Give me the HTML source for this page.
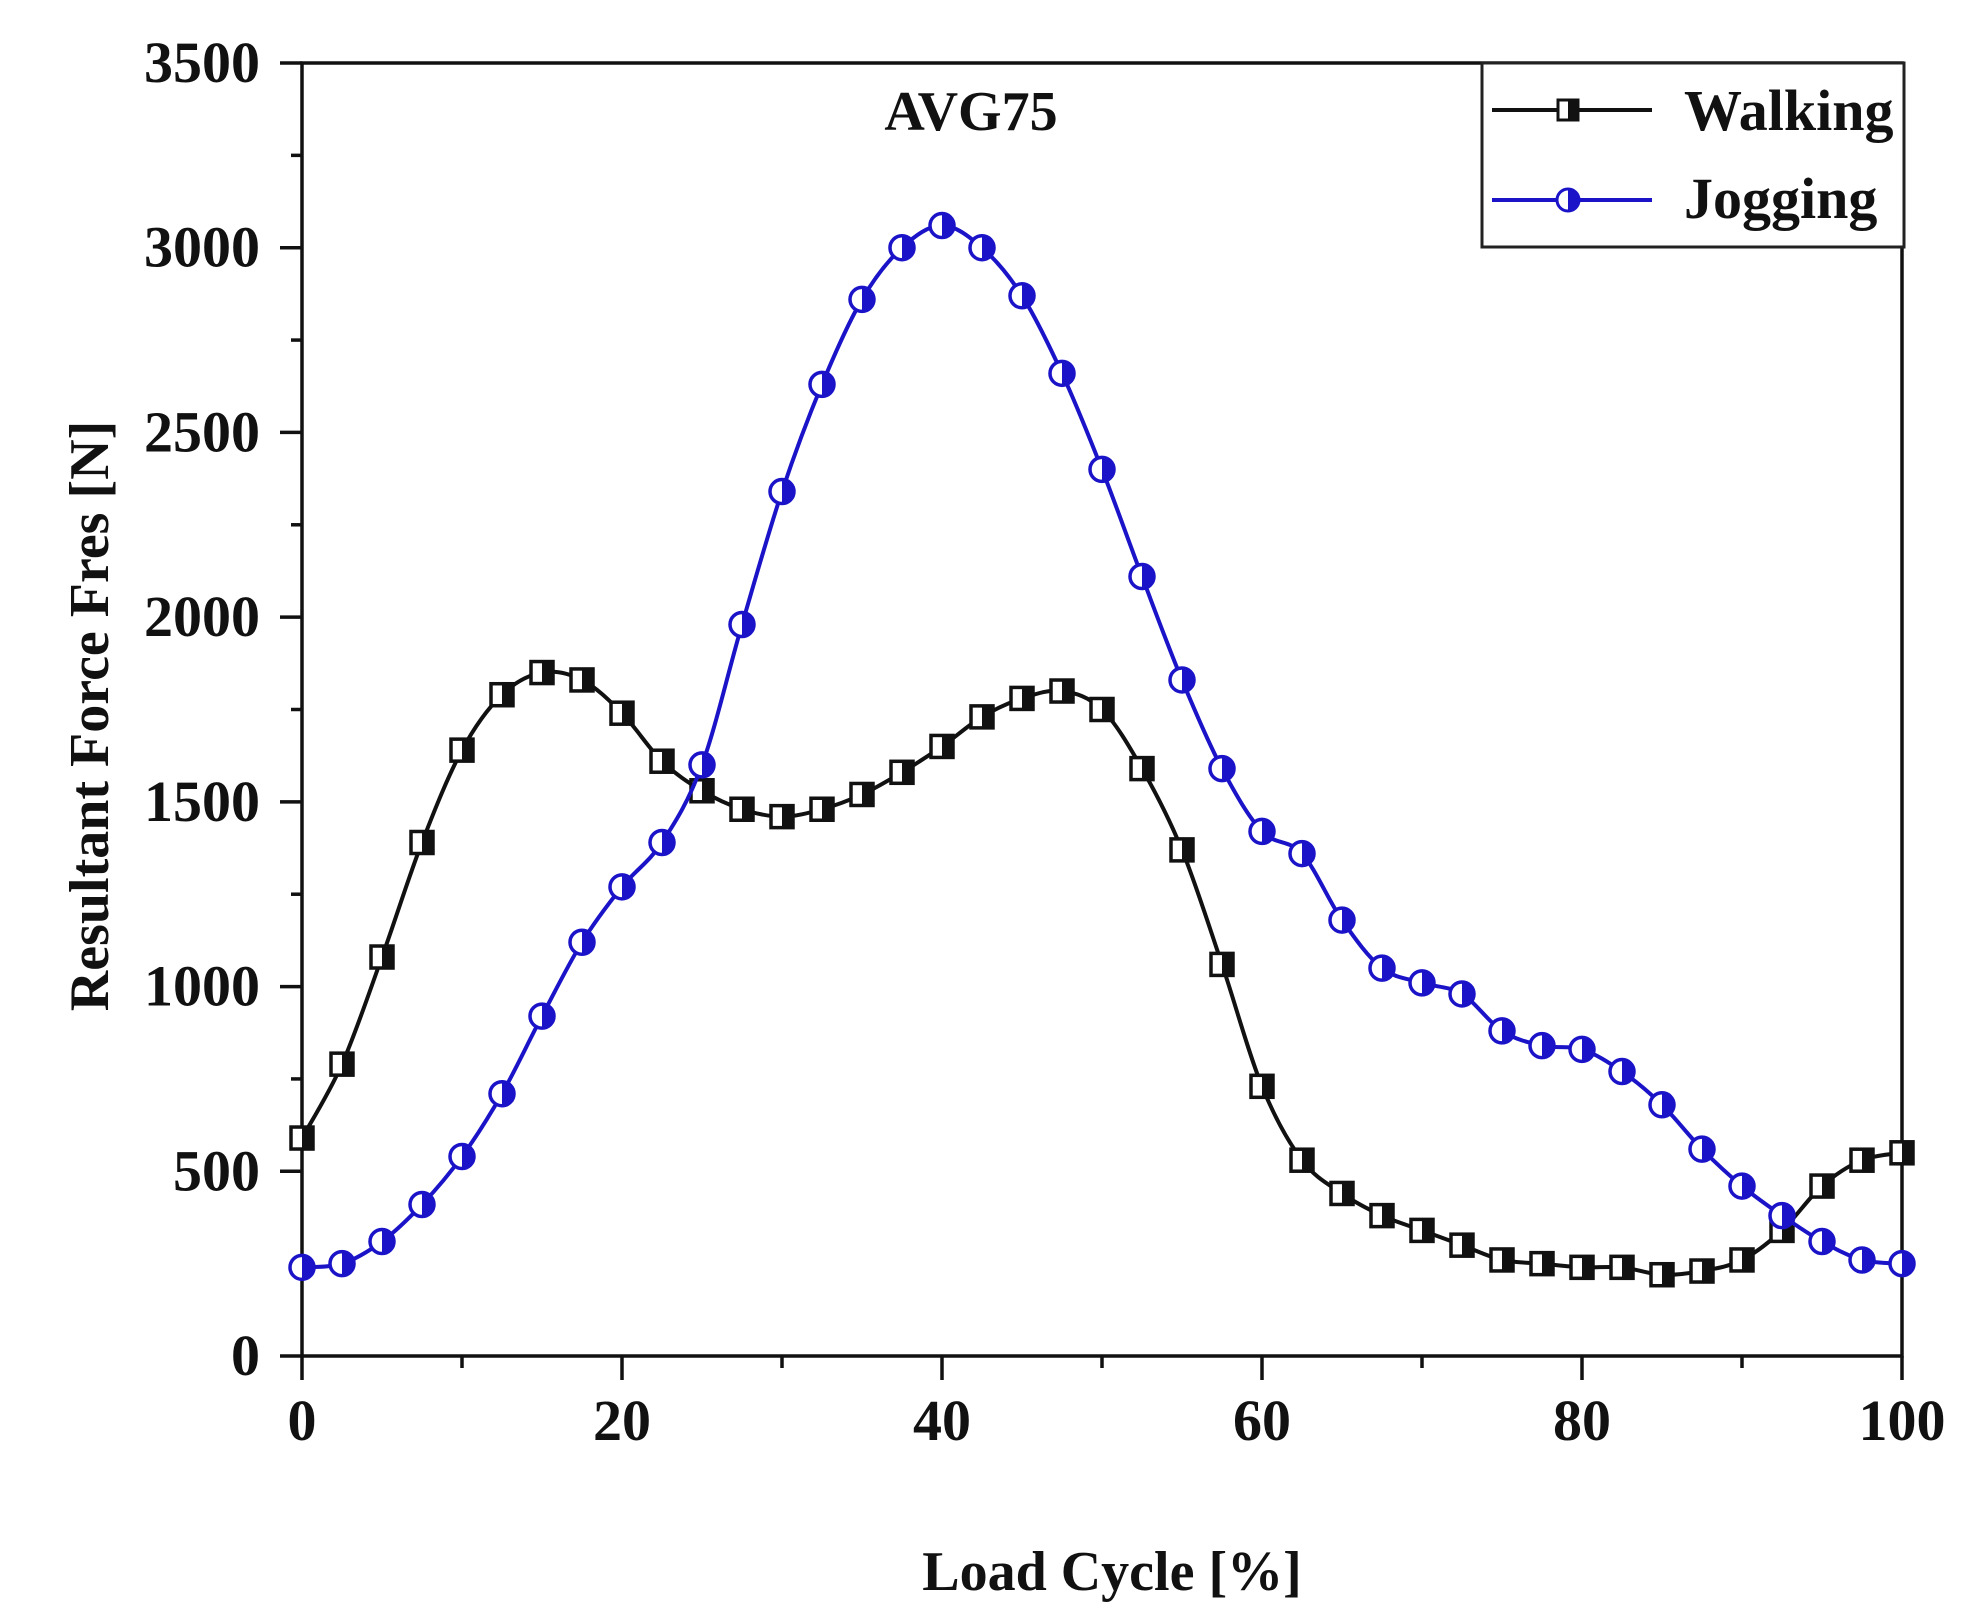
<!DOCTYPE html>
<html><head><meta charset="utf-8"><style>
html,body{margin:0;padding:0;background:#fff;}
svg{display:block;}
text{font-family:"Liberation Serif",serif;font-weight:bold;fill:#111;}
</style></head><body>
<svg id="chart" width="1970" height="1616" viewBox="0 0 1970 1616">
<g id="axes"></g><g id="series"></g>
<text x="971" y="130" font-size="56" text-anchor="middle">AVG75</text>
<text x="1112" y="1590" font-size="56" text-anchor="middle">Load Cycle [%]</text>
<text transform="translate(108,716) rotate(-90)" font-size="56" text-anchor="middle">Resultant Force Fres [N]</text>
<g>
<rect x="1482" y="63" width="422" height="184" fill="#fff" stroke="#222" stroke-width="3"/>
<g>
<line x1="1492" y1="110" x2="1652" y2="110" stroke="#111" stroke-width="4"/>
<rect x="1558" y="100" width="20" height="20" fill="#fff" stroke="#111" stroke-width="3"/>
<rect x="1568" y="100" width="10" height="20" fill="#111"/>
<text x="1684" y="130" font-size="58">Walking</text>
</g>
<g>
<line x1="1492" y1="200" x2="1652" y2="200" stroke="#1a13c8" stroke-width="4"/>
<circle cx="1568" cy="200" r="11" fill="#fff" stroke="#1a13c8" stroke-width="3"/>
<path d="M1568 189 A11 11 0 0 1 1568 211 Z" fill="#1a13c8"/>
<text x="1684" y="218" font-size="58">Jogging</text>
</g>
</g>
</svg>
<script>
const xValues = [0,2.5,5,7.5,10,12.5,15,17.5,20,22.5,25,27.5,30,32.5,35,37.5,40,42.5,45,47.5,50,52.5,55,57.5,60,62.5,65,67.5,70,72.5,75,77.5,80,82.5,85,87.5,90,92.5,95,97.5,100];
const walking = [590,790,1080,1390,1640,1790,1850,1830,1740,1610,1530,1480,1460,1480,1520,1580,1650,1730,1780,1800,1750,1590,1370,1060,730,530,440,380,340,300,260,250,240,240,220,230,260,340,460,530,550];
const jogging = [240,250,310,410,540,710,920,1120,1270,1390,1600,1980,2340,2630,2860,3000,3060,3000,2870,2660,2400,2110,1830,1590,1420,1360,1180,1050,1010,980,880,840,830,770,680,560,460,380,310,260,250];
const xTicks = [0,20,40,60,80,100];
const yTicks = [0,500,1000,1500,2000,2500,3000,3500];

const NS='http://www.w3.org/2000/svg';
const X0=302,X1=1902,Y0=1356,Y1=63;
const sx=v=>X0+(v-0)/100*(X1-X0);
const sy=v=>Y0-(v/3500)*(Y0-Y1);
function mk(tag,attrs,parent){const e=document.createElementNS(NS,tag);for(const k in attrs)e.setAttribute(k,attrs[k]);parent.appendChild(e);return e;}
const axes=document.getElementById('axes');
const series=document.getElementById('series');

const frame=mk('rect',{x:X0,y:Y1,width:X1-X0,height:Y0-Y1,fill:'none',stroke:'#111','stroke-width':3.5},axes);



xTicks.forEach((t,i)=>{
  const x=sx(t);
  const l=mk('line',{x1:x,y1:Y0,x2:x,y2:Y0+24,stroke:'#111','stroke-width':3.5},axes);
  
  
  const tx=mk('text',{x:x,y:Y0+84,'font-size':58,'text-anchor':'middle'},axes);
  tx.textContent=t;
  
  
  if(i<xTicks.length-1){
    const m=sx(t+10);
    const ml=mk('line',{x1:m,y1:Y0,x2:m,y2:Y0+12,stroke:'#111','stroke-width':3.5},axes);
    
    
  }
});
yTicks.forEach((t,i)=>{
  const y=sy(t);
  const l=mk('line',{x1:X0-22,y1:y,x2:X0,y2:y,stroke:'#111','stroke-width':3.5},axes);
  
  
  const tx=mk('text',{x:260,y:y+19,'font-size':58,'text-anchor':'end'},axes);
  tx.textContent=t;
  
  
  if(i<yTicks.length-1){
    const m=sy(t+250);
    const ml=mk('line',{x1:X0-11,y1:m,x2:X0,y2:m,stroke:'#111','stroke-width':3.5},axes);
    
    
  }
});

function smooth(pts){
  let d='M'+pts[0][0]+' '+pts[0][1];
  for(let i=0;i<pts.length-1;i++){
    const p0=pts[i-1]||pts[i],p1=pts[i],p2=pts[i+1],p3=pts[i+2]||p2;
    const c1=[p1[0]+(p2[0]-p0[0])/6,p1[1]+(p2[1]-p0[1])/6];
    const c2=[p2[0]-(p3[0]-p1[0])/6,p2[1]-(p3[1]-p1[1])/6];
    d+=` C${c1[0]} ${c1[1]} ${c2[0]} ${c2[1]} ${p2[0]} ${p2[1]}`;
  }
  return d;
}
function drawSeries(vals,color,name,shape){
  const pts=xValues.map((x,i)=>[sx(x),sy(vals[i])]);
  const g=mk('g',{},series);
  
  
  const p=mk('path',{d:smooth(pts),fill:'none',stroke:color,'stroke-width':4},g);
  
  
  pts.forEach(([x,y])=>{
    if(shape==='square'){
      const r=mk('rect',{x:x-11,y:y-11,width:22,height:22,fill:'#fff',stroke:color,'stroke-width':3.5},g);
      
      
      mk('rect',{x:x,y:y-11,width:11,height:22,fill:color},g);
    }else{
      const c=mk('circle',{cx:x,cy:y,r:12,fill:'#fff',stroke:color,'stroke-width':3.5},g);
      
      
      mk('path',{d:`M${x} ${y-12} A12 12 0 0 1 ${x} ${y+12} Z`,fill:color},g);
    }
  });
}
drawSeries(walking,'#111','walking','square');
drawSeries(jogging,'#1a13c8','jogging','circle');
</script>
</body></html>
